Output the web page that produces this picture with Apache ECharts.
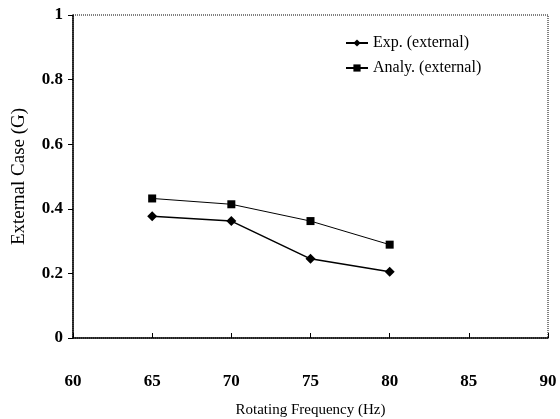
<!DOCTYPE html>
<html><head><meta charset="utf-8">
<script src="https://cdn.jsdelivr.net/npm/echarts@6/dist/echarts.min.js"></script>
<style>html,body{margin:0;padding:0;background:#fff}#c{width:560px;height:419px}</style>
</head><body><div id="c"></div>
<script>
const freq = [65, 70, 75, 80];
const expExternal = [0.377, 0.362, 0.245, 0.205];
const analyExternal = [0.432, 0.414, 0.362, 0.289];
const seriesNames = ['Exp. (external)', 'Analy. (external)'];

const chart = echarts.init(document.getElementById('c'));
const serif = '"Liberation Serif","DejaVu Serif",serif';
chart.setOption({
  animation: false,
  backgroundColor: '#fff',
  grid: {left: 73, right: 12, top: 15, bottom: 81, containLabel: false, outerBoundsMode: 'none',
    show: true, borderColor: '#000', borderWidth: 1, borderType: 'dotted'},
  legend: {
    left: 340, top: 30, orient: 'vertical', itemGap: 9, itemWidth: 22, itemHeight: 9,
    textStyle: {fontFamily: serif, fontSize: 16, lineHeight: 16, color: '#000'},
    data: seriesNames
  },
  xAxis: {
    type: 'value', min: 60, max: 90, interval: 5,
    axisLine: {lineStyle: {color: '#000', width: 1.5}},
    axisTick: {inside: true, length: 5, lineStyle: {color: '#000'}},
    axisLabel: {margin: 35, fontFamily: serif, fontWeight: 'bold', fontSize: 17, color: '#000'},
    splitLine: {show: false},
    name: 'Rotating Frequency (Hz)', nameLocation: 'middle', nameGap: 65,
    nameTextStyle: {fontFamily: serif, fontSize: 15, color: '#000'}
  },
  yAxis: {
    type: 'value', min: 0, max: 1, interval: 0.2,
    axisLine: {show: true, lineStyle: {color: '#000', width: 1.5}},
    axisTick: {show: true, length: 5, lineStyle: {color: '#000'}},
    axisLabel: {margin: 10, fontFamily: serif, fontWeight: 'bold', fontSize: 17, color: '#000',
      formatter: v => (v === 0 || v === 1) ? String(v) : v.toFixed(1)},
    splitLine: {show: false},
    name: 'External Case (G)', nameLocation: 'middle', nameGap: 44,
    nameTextStyle: {fontFamily: serif, fontSize: 19, color: '#000'}
  },
  series: [
    {name: seriesNames[0], type: 'line', data: freq.map((f, i) => [f, expExternal[i]]),
     symbol: 'diamond', symbolSize: 10, lineStyle: {color: '#000', width: 1.5}, itemStyle: {color: '#000'}},
    {name: seriesNames[1], type: 'line', data: freq.map((f, i) => [f, analyExternal[i]]),
     symbol: 'rect', symbolSize: 8, lineStyle: {color: '#000', width: 1}, itemStyle: {color: '#000'}}
  ]
});
</script></body></html>
